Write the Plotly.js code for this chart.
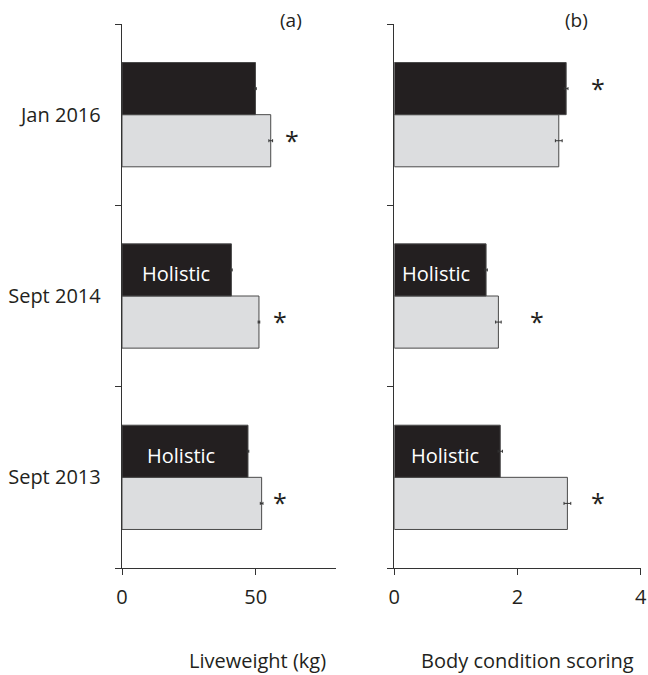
<!DOCTYPE html>
<html>
<head>
<meta charset="utf-8">
<script src="https://cdn.plot.ly/plotly-3.0.1.min.js"></script>
<style>html,body{margin:0;padding:0;background:#fff;}#chart{width:648px;height:675px;}</style>
</head>
<body>
<div id="chart"></div>
<script>
// Categories (bottom to top)
const categories = ["Sept 2013", "Sept 2014", "Jan 2016"];

// Panel (a) Liveweight (kg)
const liveHolistic = [47.1, 40.9, 49.9];
const liveHolisticErr = [0.3, 0.3, 0.3];
const liveOther = [52.2, 51.2, 55.6];
const liveOtherErr = [0.5, 0.3, 0.7];

// Panel (b) Body condition scoring
const bcsHolistic = [1.72, 1.49, 2.79];
const bcsHolisticErr = [0.035, 0.02, 0.03];
const bcsOther = [2.81, 1.69, 2.67];
const bcsOtherErr = [0.055, 0.045, 0.055];

// Significance markers: which bar carries the star, and its x position
const starA_on = ["other", "other", "other"];
const starA_x = [59, 59, 63.4];
const starB_on = ["other", "other", "holistic"];
const starB_x = [3.31, 2.32, 3.31];

// "Holistic" label per category (null = none)
const labelA_x = [22.0, 20.0, null];
const labelB_x = [0.83, 0.68, null];

const FONT = "Open Sans, sans-serif";
const TXT = "#231f20";
const BLACK = "#231f20";
const GREY = "#dcdddf";
const EDGE = "#4a4a4a";

function barTrace(x, err, color, xa, ya, name) {
  return {
    type: "bar", orientation: "h", x: x, y: categories, name: name,
    xaxis: xa, yaxis: ya,
    marker: {color: color, line: {color: EDGE, width: 1}},
    error_x: {type: "data", array: err, visible: true, color: "#333", thickness: 1, width: 1.5},
    showlegend: false, hoverinfo: "skip"
  };
}

const data = [
  barTrace(liveOther, liveOtherErr, GREY, "x", "y", "Other"),
  barTrace(liveHolistic, liveHolisticErr, BLACK, "x", "y", "Holistic"),
  barTrace(bcsOther, bcsOtherErr, GREY, "x2", "y2", "Other"),
  barTrace(bcsHolistic, bcsHolisticErr, BLACK, "x2", "y2", "Holistic")
];

const bargap = 0.425;
const half = (1 - bargap) / 4; // centre offset of each bar in a group of two

const annotations = [];
function addStars(onArr, xArr, xref, yref) {
  categories.forEach((c, i) => {
    if (!onArr[i]) return;
    const off = onArr[i] === "holistic" ? half : -half;
    annotations.push({x: xArr[i], y: i + off, xref: xref, yref: yref, text: "*",
      showarrow: false, font: {family: FONT, size: 25, color: TXT}, xanchor: "center", yanchor: "middle", yshift: 1});
  });
}
function addLabels(xArr, xref, yref) {
  categories.forEach((c, i) => {
    if (xArr[i] === null) return;
    annotations.push({x: xArr[i], y: i + half, xref: xref, yref: yref, text: "Holistic",
      showarrow: false, font: {family: FONT, size: 20, color: "#ffffff"}, xanchor: "center", yanchor: "middle", yshift: -4});
  });
}
addStars(starA_on, starA_x, "x", "y");
addStars(starB_on, starB_x, "x2", "y2");
addLabels(labelA_x, "x", "y");
addLabels(labelB_x, "x2", "y2");

annotations.push(
  {x: 290.5/648, y: 1 - 20/675, xref: "paper", yref: "paper", text: "(a)", showarrow: false,
   font: {family: FONT, size: 19, color: TXT}, xanchor: "center", yanchor: "middle"},
  {x: 576/648, y: 1 - 20/675, xref: "paper", yref: "paper", text: "(b)", showarrow: false,
   font: {family: FONT, size: 19, color: TXT}, xanchor: "center", yanchor: "middle"},
  {x: 257/648, y: 1 - 660/675, xref: "paper", yref: "paper", text: "Liveweight (kg)", showarrow: false,
   font: {family: FONT, size: 20, color: TXT}, xanchor: "center", yanchor: "middle", borderpad: 0},
  {x: 527/648, y: 1 - 660/675, xref: "paper", yref: "paper", text: "Body condition scoring", showarrow: false,
   font: {family: FONT, size: 20, color: TXT}, xanchor: "center", yanchor: "middle", borderpad: 0}
);

const yDomain = [1 - 568/675, 1 - 24/675];
const axisCommon = {
  showgrid: false, zeroline: false, showline: true, linecolor: "#333", linewidth: 1.3,
  ticks: "outside", tickcolor: "#333", tickwidth: 1, ticklen: 6,
  tickfont: {family: FONT, size: 20, color: TXT}, fixedrange: true
};

const layout = {
  width: 648, height: 675,
  margin: {l: 0, r: 0, t: 0, b: 0},
  paper_bgcolor: "#ffffff", plot_bgcolor: "#ffffff",
  barmode: "group", bargap: bargap, bargroupgap: 0,
  font: {family: FONT, color: TXT},
  xaxis: Object.assign({}, axisCommon, {domain: [122/648, 336/648], range: [0, 80], dtick: 50, tick0: 0,
    anchor: "y", ticklabelstandoff: 5}),
  xaxis2: Object.assign({}, axisCommon, {domain: [394.3/648, 640.7/648], range: [0, 4], dtick: 2, tick0: 0,
    anchor: "y2", ticklabelstandoff: 5}),
  yaxis: Object.assign({}, axisCommon, {domain: yDomain, type: "category", categoryorder: "array",
    categoryarray: categories, range: [-0.5, 2.5], tickson: "boundaries", anchor: "x", ticklabelstandoff: 16}),
  yaxis2: Object.assign({}, axisCommon, {domain: yDomain, type: "category", categoryorder: "array",
    categoryarray: categories, range: [-0.5, 2.5], tickson: "boundaries", anchor: "x2", showticklabels: false}),
  annotations: annotations
};

Plotly.newPlot("chart", data, layout, {displayModeBar: false, staticPlot: true});
</script>
</body>
</html>
